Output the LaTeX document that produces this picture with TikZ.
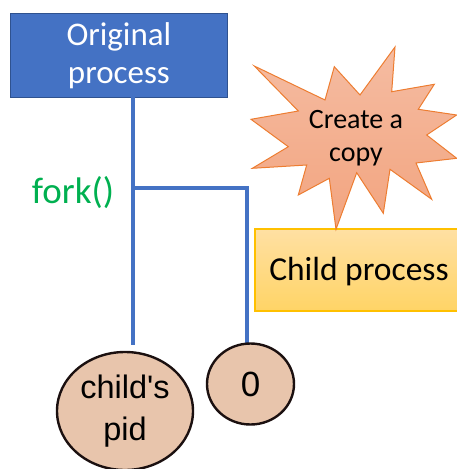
\documentclass[tikz,border=0pt]{standalone}
\usepackage{fontspec}
\setmainfont{Carlito}
\newfontfamily\arialfont{Liberation Sans}
\usetikzlibrary{calc}
\definecolor{boxblue}{HTML}{4472C4}
\definecolor{boxedge}{HTML}{2F528F}
\definecolor{forkgreen}{HTML}{00B050}
\definecolor{startop}{HTML}{F5BCA2}
\definecolor{starbot}{HTML}{F2A47F}
\definecolor{staredge}{HTML}{ED7D31}
\definecolor{childtop}{HTML}{FFE0A3}
\definecolor{childbot}{HTML}{FFD466}
\definecolor{childedge}{HTML}{FFC000}
\definecolor{ellfill}{HTML}{E8C5AC}
\definecolor{elledge}{HTML}{1B1010}
\tikzset{
  wire/.style={draw=boxblue, line width=4pt},
  procbox/.style={draw=boxedge, line width=0.8pt, fill=boxblue, text=white},
  retell/.style={draw=elledge, line width=2.4pt, fill=ellfill, ellipse, inner sep=0pt, font=\arialfont\fontsize{32.5}{42}\selectfont, align=center},
}
\usetikzlibrary{shapes.geometric}
\begin{document}
\begin{tikzpicture}[x=1pt,y=-1pt]
\useasboundingbox (0,0) rectangle (457,469);
% original process box
\node[procbox, minimum width=217pt, minimum height=84pt, anchor=north west,
      font=\fontsize{33}{38}\selectfont, align=center, inner sep=0pt]
  (orig) at (10,13) {Original\\process};
% wires
\coordinate (top) at (133,96);
\coordinate (forkpt) at (133,188);
\coordinate (end1) at (133,345);
\coordinate (corner) at (247,188);
\coordinate (end2) at (247,343);
\draw[wire] (top) -- (end1);
\draw[wire, line join=miter] (forkpt) -- (corner) -- (end2);
\node[text=forkgreen, font=\fontsize{37}{40}\selectfont, anchor=center] (fork) at (73,193) {fork()};
% child process box
\node[draw=childedge, line width=1.5pt, top color=childtop, bottom color=childbot,
      minimum width=206pt, minimum height=82pt, anchor=north west, inner sep=0pt]
  (child) at (254,228) {};
\node[font=\fontsize{33.5}{38}\selectfont, anchor=base] (childtxt) at (359,280) {Child process};
% explosion star
\path[draw=staredge, line width=1pt, top color=startop, bottom color=starbot]
  (395,47) -- (391.7,91.7) -- (434.3,84.3) -- (418.3,109.3) -- (456.7,115)
  -- (426.7,135) -- (456.7,158.3) -- (416,163) -- (431.7,199.3) -- (390,169.3)
  -- (383.3,213.3) -- (356.7,172.7) -- (336,229.3) -- (329.3,178.3) -- (298.3,195)
  -- (306.7,165) -- (252.3,168.3) -- (288.3,146.7) -- (251,119.3) -- (298.3,111)
  -- (254.3,66) -- (325,100) -- (334.3,66.7) -- (360,95) -- cycle;
\node[font=\fontsize{28}{33}\selectfont, align=center] (copy) at (356,138) {Create a\\copy};
% return value ellipses
\node[retell, minimum width=136pt, minimum height=118pt] (pid) at (125,411) {child's\\pid};
\node[retell, minimum width=87pt, minimum height=81pt, font=\arialfont\fontsize{35}{40}\selectfont] (zero) at (250.5,384) {0};
\end{tikzpicture}
\end{document}
